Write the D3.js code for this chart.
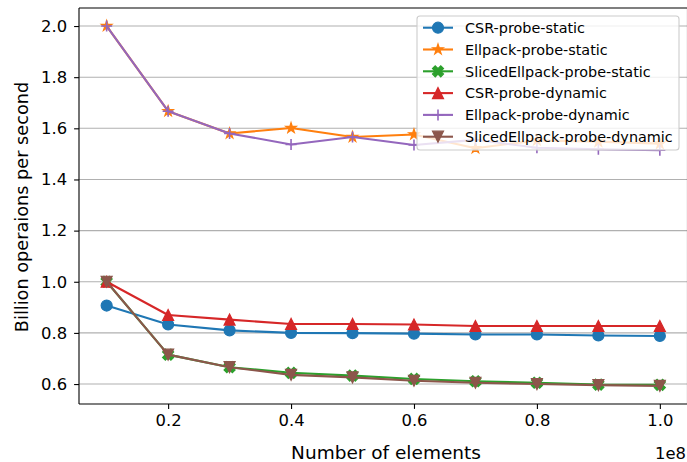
<!DOCTYPE html>
<html><head><meta charset="utf-8">
<script src="https://cdn.jsdelivr.net/npm/d3@7"></script>
<style>body{margin:0;background:#fff}svg{display:block}text{font-family:"DejaVu Sans",sans-serif;fill:#000}</style>
</head><body><svg id="c" width="687" height="462"></svg>
<script>
const xValues = [0.1,0.2,0.3,0.4,0.5,0.6,0.7,0.8,0.9,1.0];
const seriesNames = ["CSR-probe-static","Ellpack-probe-static","SlicedEllpack-probe-static","CSR-probe-dynamic","Ellpack-probe-dynamic","SlicedEllpack-probe-dynamic"];
const csrStatic = [0.907,0.833,0.810,0.800,0.799,0.797,0.794,0.794,0.790,0.788];
const ellStatic = [2.0,1.667,1.580,1.601,1.566,1.576,1.522,1.553,1.548,1.540];
const slicedStatic = [1.0,0.715,0.666,0.644,0.633,0.620,0.611,0.605,0.598,0.597];
const csrDynamic = [1.0,0.870,0.852,0.835,0.835,0.833,0.827,0.827,0.827,0.827];
const ellDynamic = [2.0,1.667,1.580,1.537,1.566,1.535,1.555,1.524,1.518,1.514];
const slicedDynamic = [1.0,0.715,0.666,0.636,0.626,0.613,0.605,0.600,0.596,0.593];
const xTicks = [0.2,0.4,0.6,0.8,1.0];
const yTicks = [0.6,0.8,1.0,1.2,1.4,1.6,1.8,2.0];
const colors = ["#1f77b4","#ff7f0e","#2ca02c","#d62728","#9467bd","#8c564b"];
const markers = ["circle","star","X","tri-up","plus","tri-down"];
const allSeries = [csrStatic,ellStatic,slicedStatic,csrDynamic,ellDynamic,slicedDynamic];

const svg = d3.select("#c");
const L=79, R=687.5, T=8, B=404;
const x = d3.scaleLinear().domain([0.055,1.045]).range([L,R]);
const y = d3.scaleLinear().domain([0.522,2.0705]).range([B,T]);

// grid
svg.append("g").selectAll("line").data(yTicks).join("line")
  .attr("x1",L).attr("x2",R).attr("y1",d=>y(d)).attr("y2",d=>y(d))
  .attr("stroke","#b0b0b0").attr("stroke-width",1.1);

const MS = 11;
function markerPath(type, s){
  const h = s/2;
  if(type==="circle") return d3.symbol(d3.symbolCircle, Math.PI*h*h)();
  if(type==="star"){
    let p=[]; for(let i=0;i<10;i++){const r=i%2?h*0.381966:h; const a=-Math.PI/2+i*Math.PI/5; p.push([r*Math.cos(a),r*Math.sin(a)]);}
    return "M"+p.map(q=>q.join(",")).join("L")+"Z";
  }
  if(type==="tri-up") return `M0,${-h}L${-h},${h}L${h},${h}Z`;
  if(type==="tri-down") return `M0,${h}L${-h},${-h}L${h},${-h}Z`;
  if(type==="plus") return `M${-h},0L${h},0M0,${-h}L0,${h}`;
  if(type==="X"){
    const pts=[[-1,-2],[0,-1],[1,-2],[2,-1],[1,0],[2,1],[1,2],[0,1],[-1,2],[-2,1],[-1,0],[-2,-1]].map(q=>[q[0]*h/2,q[1]*h/2]);
    return "M"+pts.map(q=>q.join(",")).join("L")+"Z";
  }
}
function drawMarker(g, type, color, cx, cy){
  const p = g.append("path").attr("d",markerPath(type,MS)).attr("transform",`translate(${cx},${cy})`);
  if(type==="plus") p.attr("fill","none").attr("stroke",color).attr("stroke-width",1.6);
  else p.attr("fill",color).attr("stroke",color).attr("stroke-width",1.2).attr("stroke-linejoin","miter");
}

const plot = svg.append("g");
const line = d3.line().x((d,i)=>x(xValues[i])).y(d=>y(d));
allSeries.forEach((vals,si)=>{
  const g = plot.append("g");
  g.append("path").attr("d",line(vals)).attr("fill","none").attr("stroke",colors[si])
    .attr("stroke-width",2.1).attr("stroke-linejoin","round").attr("stroke-linecap","butt");
  vals.forEach((v,i)=>drawMarker(g,markers[si],colors[si],x(xValues[i]),y(v)));
});

// spines
svg.append("line").attr("x1",L).attr("x2",L).attr("y1",T).attr("y2",B).attr("stroke","#000").attr("stroke-width",1.1);
svg.append("line").attr("x1",L).attr("x2",R).attr("y1",B).attr("y2",B).attr("stroke","#000").attr("stroke-width",1.1);
svg.append("line").attr("x1",L).attr("x2",R).attr("y1",T).attr("y2",T).attr("stroke","#000").attr("stroke-width",1.1);
svg.append("line").attr("x1",R).attr("x2",R).attr("y1",T).attr("y2",B).attr("stroke","#000").attr("stroke-width",1.1);

// axes
const TF = 16.4;
const xAxis = d3.axisBottom(x).tickValues(xTicks).tickFormat(d3.format(".1f")).tickSize(4.9).tickPadding(5.5);
const gx = svg.append("g").attr("transform",`translate(0,${B})`).call(xAxis);
const yAxis = d3.axisLeft(y).tickValues(yTicks).tickFormat(d3.format(".1f")).tickSize(4.9).tickPadding(7);
const gy = svg.append("g").attr("transform",`translate(${L},0)`).call(yAxis);
[gx,gy].forEach(g=>{
  g.select(".domain").remove();
  g.selectAll(".tick line").attr("stroke","#000").attr("stroke-width",1.1);
  g.selectAll(".tick text").attr("font-size",TF).attr("font-family","DejaVu Sans").attr("fill","#000");
});

svg.append("text").attr("x",386).attr("y",459).attr("text-anchor","middle").attr("font-size",18.5).text("Number of elements");
svg.append("text").attr("x",686).attr("y",459).attr("text-anchor","end").attr("font-size",TF).text("1e8");
svg.append("text").attr("transform","translate(28,207) rotate(-90)").attr("text-anchor","middle").attr("font-size",17.7).text("Billion operaions per second");

// legend
const LF = 14.4;
const lg = svg.append("g");
lg.append("rect").attr("x",417).attr("y",16).attr("width",262).attr("height",134).attr("rx",3)
  .attr("fill","#fff").attr("fill-opacity",0.8).attr("stroke","#cccccc").attr("stroke-width",1.1);
seriesNames.forEach((name,i)=>{
  const cy = 27.7 + i*21.8;
  lg.append("line").attr("x1",423).attr("x2",453).attr("y1",cy).attr("y2",cy).attr("stroke",colors[i]).attr("stroke-width",2.1);
  drawMarker(lg,markers[i],colors[i],438,cy);
  lg.append("text").attr("x",465).attr("y",cy+5.2).attr("font-size",LF).text(name);
});
</script></body></html>
